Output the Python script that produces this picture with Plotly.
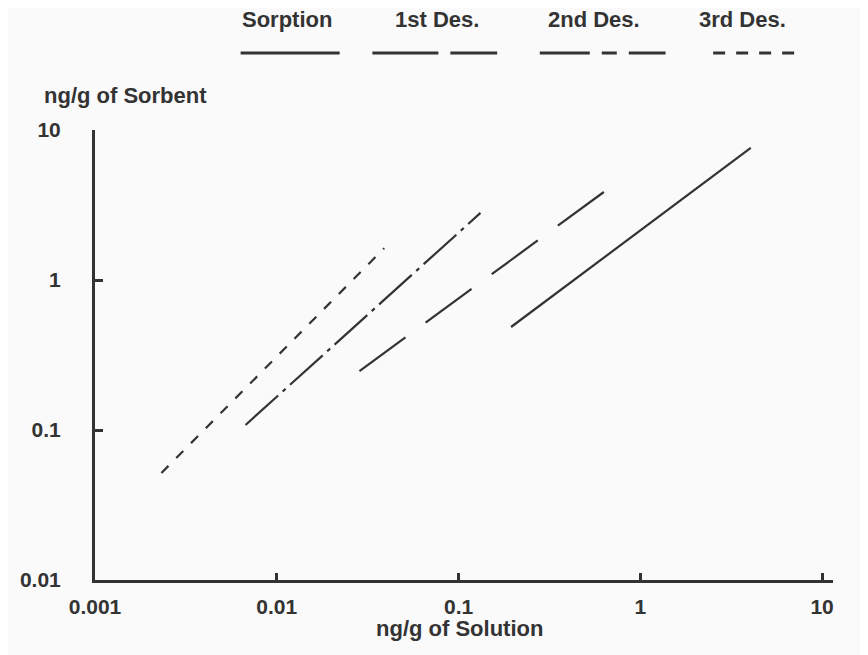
import plotly.graph_objects as go

# Isotherm lines (straight in log-log space): endpoints
series = ["Sorption", "1st Des.", "2nd Des.", "3rd Des."]
x_start = [0.1945, 0.0285, 0.00673, 0.00232]
x_end = [4.05, 0.641, 0.132, 0.039]
y_start = [0.486, 0.247, 0.108, 0.0517]
y_end = [7.6, 3.92, 2.80, 1.63]

x_tickvals = [0.001, 0.01, 0.1, 1, 10]
x_ticktext = ["0.001", "0.01", "0.1", "1", "10"]
y_tickvals = [0.01, 0.1, 1, 10]
y_ticktext = ["0.01", "0.1", "1", "10"]

dashes = ["solid", "57px,25px", "44px,6px,4px,6px", "10px,11px"]
legend_dashes = ["solid", "66px,12px", "50px,12px,15px,12px", "12px,11px"]

# page-pixel layout helpers (plot area: x 88..833, y 130..580 on the page)
PAGE_OFF = 8
L, T = 88 - PAGE_OFF, 130 - PAGE_OFF
PW, PH = 833 - 88, 580 - 130
def px(X):
    return (X - 88) / PW
def py(Y):
    return 1 - (Y - 130) / PH

legend_px = [(235, 335), (368, 494), (537, 664), (712, 801)]
label_px = [282, 433, 592, 742]

INK = "#333333"
FONT = "Liberation Sans, Arial, sans-serif"

fig = go.Figure()
for name, xs, xe, ys, ye, d in zip(series, x_start, x_end, y_start, y_end, dashes):
    fig.add_trace(go.Scatter(
        x=[xs, xe], y=[ys, ye], mode="lines", name=name,
        line=dict(color=INK, width=2.2, dash=d), showlegend=False,
    ))

shapes = []
annotations = []
for name, (X0, X1), LX, ld in zip(series, legend_px, label_px, legend_dashes):
    shapes.append(dict(type="line", xref="paper", yref="paper", x0=px(X0), x1=px(X1),
                       y0=py(53), y1=py(53), line=dict(color=INK, width=3, dash=ld)))
    annotations.append(dict(text="<b>" + name + "</b>", xref="paper", yref="paper",
                            x=px(LX), y=py(20), xanchor="center", yanchor="middle",
                            showarrow=False,
                            font=dict(size=22, color=INK, family=FONT)))

annotations.append(dict(text="<b>ng/g of Sorbent</b>", xref="paper", yref="paper",
                        x=px(35), y=py(96), xanchor="left", yanchor="middle",
                        showarrow=False, font=dict(size=22, color=INK, family=FONT)))
annotations.append(dict(text="<b>ng/g of Solution</b>", xref="paper", yref="paper",
                        x=px(456), y=py(628), xanchor="center", yanchor="middle",
                        showarrow=False, font=dict(size=22, color=INK, family=FONT)))

decade_px = 183.5
x_max = 1 + (833 - 822) / decade_px

fig.update_layout(
    width=868, height=655,
    margin=dict(l=L, r=868 - (833 - PAGE_OFF), t=T, b=655 - (580 - PAGE_OFF)),
    paper_bgcolor="#fafafa", plot_bgcolor="#fafafa",
    font=dict(family=FONT, color=INK, size=21),
    shapes=shapes, annotations=annotations,
    xaxis=dict(type="log", range=[-3, x_max], tickvals=x_tickvals, ticktext=x_ticktext,
               ticks="inside", ticklen=7, tickwidth=3, tickcolor=INK,
               showline=True, linewidth=3, linecolor=INK, showgrid=False, zeroline=False,
               ticklabelstandoff=6,
               tickfont=dict(size=21, family=FONT, color=INK, weight="bold")),
    yaxis=dict(type="log", range=[-2, 1], tickvals=y_tickvals, ticktext=y_ticktext,
               ticks="inside", ticklen=8, tickwidth=3, tickcolor=INK,
               showline=True, linewidth=3, linecolor=INK, showgrid=False, zeroline=False,
               ticklabelstandoff=27,
               tickfont=dict(size=21, family=FONT, color=INK, weight="bold")),
)

fig.write_html("out.html")
